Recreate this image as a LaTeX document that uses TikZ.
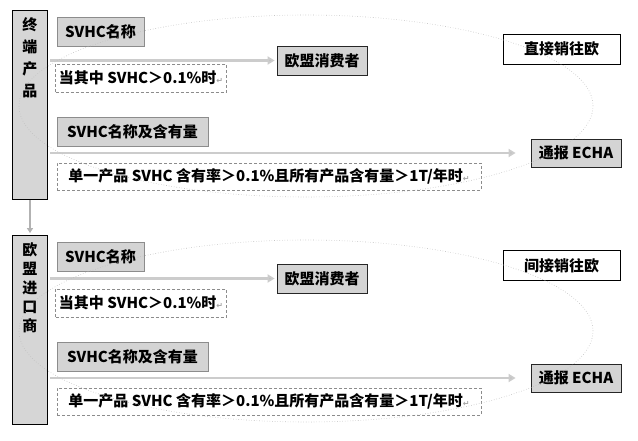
\documentclass[tikz,border=0pt]{standalone}
\usepackage{fontspec}
\newfontfamily\cjkfont{Noto Sans CJK SC}
\newfontfamily\markfont{DejaVu Sans}
\usetikzlibrary{arrows.meta}

\tikzset{
  side_box/.style={draw=black, line width=.8pt, fill=black!16, minimum width=35pt, minimum height=189pt},
  item_box/.style={draw=black!45, line width=.8pt, fill=black!17, minimum height=29pt},
  goal_box/.style={draw=black!85, line width=.8pt, fill=black!17, minimum width=90pt, minimum height=29pt},
  cond_box/.style={draw=black!45, dash pattern=on 3pt off 2pt, line width=.7pt, fill=white, minimum height=28pt},
  route_box/.style={draw=black, line width=.8pt, fill=white, minimum width=117pt, minimum height=30pt},
}

\newcommand{\retmark}{{\markfont\color{black!35}\fontsize{8}{8}\selectfont ↵}}

\begin{document}
\begin{tikzpicture}[
  x=1pt, y=-1pt,
  font=\cjkfont\bfseries\fontsize{15}{17}\selectfont,
  flow line/.style={draw=black!20, line width=2.5pt, -{Triangle[length=7pt,width=8pt,fill=black!25]}},
  down line/.style={draw=black!30, line width=1.5pt, -{Triangle[length=5pt,width=6pt]}},
  ring line/.style={draw=black!25, dotted, line width=.6pt},
  ]

  \useasboundingbox (0,0) rectangle (638,441);

  \foreach \dy/\id/\who/\gap/\cy/\ry/\route in {
      0/a/{终\\端\\产\\品}/22/60.5/49/直接销往欧,
      225/b/{欧\\盟\\进\\口\\商}/19/53.5/40.5/间接销往欧}{
    \begin{scope}[shift={(0,\dy)}]
      \node[side_box] (side_\id) at (30,105) {};
      \node[anchor=north, align=center, font=\cjkfont\bfseries\fontsize{15}{\gap}\selectfont]
        (who_\id) at ([yshift=-4pt]side_\id.north) {\who};

      \node[item_box, minimum width=87pt] (name_\id) at (100.5,32) {SVHC名称};
      \node[goal_box] (cons_\id) at (322,\cy) {欧盟消费者};
      \node[cond_box, minimum width=168pt] (cond_\id) at (141,78) {当其中 SVHC＞0.1\%时\retmark};
      \node[item_box, minimum width=151pt] (amount_\id) at (132.5,132) {SVHC名称及含有量};
      \node[goal_box, minimum height=28pt] (echa_\id) at (576,153) {通报 ECHA};
      \node[cond_box, minimum width=424pt, minimum height=27pt] (limit_\id) at (269,176.5)
        {单一产品 SVHC 含有率＞0.1\%且所有产品含有量＞1T/年时\retmark};
      \node[route_box] (route_\id) at (561.5,\ry) {\route};

      \draw[flow line, shorten <=2.5pt, shorten >=2pt] (side_\id.east |- cons_\id.west) -- (cons_\id.west);
      \draw[flow line, shorten <=2.5pt, shorten >=15pt] (side_\id.east |- echa_\id.west) -- (echa_\id.west);

      % the loose ring round each route
      \draw[ring line] (306,106) ellipse [x radius=287pt, y radius=91pt];
    \end{scope}
  }

  \draw[down line, shorten >=2pt] (side_a.south) -- (side_b.north);

\end{tikzpicture}
\end{document}
